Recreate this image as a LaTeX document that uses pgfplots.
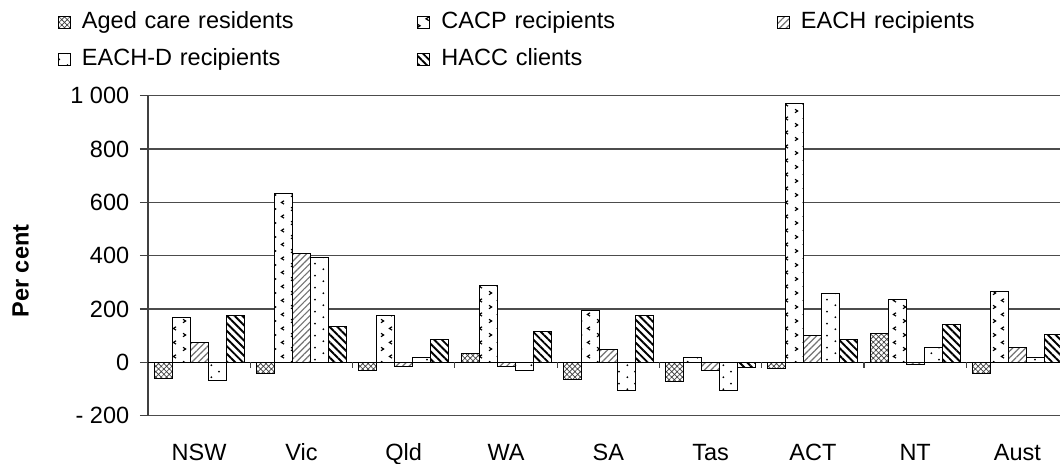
\documentclass[border=0pt]{standalone}
\usepackage{fontspec}
\setmainfont{Liberation Sans}
\usepackage{pgfplots}
\pgfplotsset{compat=1.18}
\usetikzlibrary{patterns,patterns.meta}

\tikzdeclarepattern{
  name=chevrons,
  type=uncolored,
  bounding box={(0pt,0pt) and (9pt,7pt)},
  tile size={(9pt,7pt)},
  code={
    \draw[line width=0.6pt] (1.6pt,0.7pt) -- (3.0pt,1.6pt) -- (1.6pt,2.5pt);
    \draw[line width=0.6pt] (7.4pt,4.2pt) -- (6.0pt,5.1pt) -- (7.4pt,6.0pt);
  }
}
\tikzdeclarepattern{
  name=sparsedots,
  type=uncolored,
  bounding box={(0pt,0pt) and (8pt,6pt)},
  tile size={(8pt,6pt)},
  code={
    \fill (1.8pt,1.5pt) circle (0.55pt);
    \fill (5.8pt,4.5pt) circle (0.55pt);
  }
}

\pgfplotstableread{
x aged cacp each eachd hacc
0 -60  168 75  -67  175
1 -40  633 408 392  136
2 -31  175 -15 17   85
3 32   287 -15 -31  115
4 -63  196 47  -107 175
5 -70  17  -31 -107 -19
6 -23  970 100 258  85
7 107  235 -9  54   143
8 -40  266 54  17   106
}\datatable

\begin{document}
\begin{tikzpicture}[font=\fontsize{11.75}{14}\selectfont]
\begin{axis}[
  scale only axis,
  width=456pt, height=160pt,
  xmin=-0.5, xmax=8.416,
  ymin=-200, ymax=1000,
  ybar=0pt, bar width=9pt,
  separate axis lines,
  axis y line*=left,
  x axis line style={draw=none},
  y axis line style={draw=black!75, line width=0.6pt},
  xtick={0,...,8},
  xticklabels={NSW,Vic,Qld,WA,SA,Tas,ACT,NT,Aust},
  xtick style={draw=none},
  xticklabel style={anchor=base, yshift=-18.15pt, inner sep=0pt},
  ytick={-200,0,200,400,600,800,1000},
  yticklabels={- 200,0,200,400,600,800,1 000},
  ytick style={draw=black!75, line width=0.6pt},
  tick align=outside,
  major tick length=4pt,
  yticklabel style={anchor=east, inner sep=0pt, xshift=-5.2pt},
  ymajorgrids,
  grid style={draw=black!70, line width=0.6pt},
  extra y ticks={0},
  extra y tick labels={},
  extra y tick style={grid style={draw=black, line width=0.7pt}, major tick length=0pt},
  ylabel={Per cent},
  ylabel style={at={(axis description cs:-0.1396,0.452)}, anchor=center, font=\fontsize{11.75}{14}\selectfont\bfseries},
  legend columns=3,
  legend style={draw=none, fill=none, inner sep=0pt, outer sep=0pt,
    at={(axis description cs:-0.0987,1.2678)}, anchor=north west,
    row sep=7pt,
    nodes={text width=165pt, align=left, inner sep=0pt, text height=9pt, text depth=2.5pt},
    /tikz/every odd column/.append style={column sep=5.5pt},
    /tikz/every even column/.append style={column sep=2.75pt}},
  legend image code/.code={\draw[#1] (0pt,-3.5pt) rectangle (6pt,2.5pt);},
  every axis plot/.append style={draw=black, line width=0.5pt},
]
\addplot[fill=white, postaction={pattern={Hatch[angle=45,distance=1.9pt,line width=0.35pt]}, pattern color=black!75}]
  table[x=x,y=aged]{\datatable};
\addlegendentry{Aged care residents}
\addplot[fill=white, postaction={pattern=chevrons, pattern color=black}]
  table[x=x,y=cacp]{\datatable};
\addlegendentry{CACP recipients}
\addplot[fill=white, postaction={pattern={Lines[angle=45,distance=2.3pt,line width=0.6pt]}, pattern color=black!55}]
  table[x=x,y=each]{\datatable};
\addlegendentry{EACH recipients}
\addplot[fill=white, postaction={pattern=sparsedots, pattern color=black}]
  table[x=x,y=eachd]{\datatable};
\addlegendentry{EACH-D recipients}
\addplot[fill=white, postaction={pattern={Lines[angle=-45,distance=2.7pt,line width=0.95pt]}, pattern color=black}]
  table[x=x,y=hacc]{\datatable};
\addlegendentry{HACC clients}
\pgfplotsinvokeforeach{0.5,1.5,2.5,3.5,4.5,5.5,6.5,7.5}{
  \draw[black!75, line width=0.6pt] (axis cs:#1,0) -- ++(0pt,-3pt);
}
\end{axis}
\pgfresetboundingbox
\path (-74pt,-23.65pt) rectangle (456pt,207.85pt);
\end{tikzpicture}
\end{document}
